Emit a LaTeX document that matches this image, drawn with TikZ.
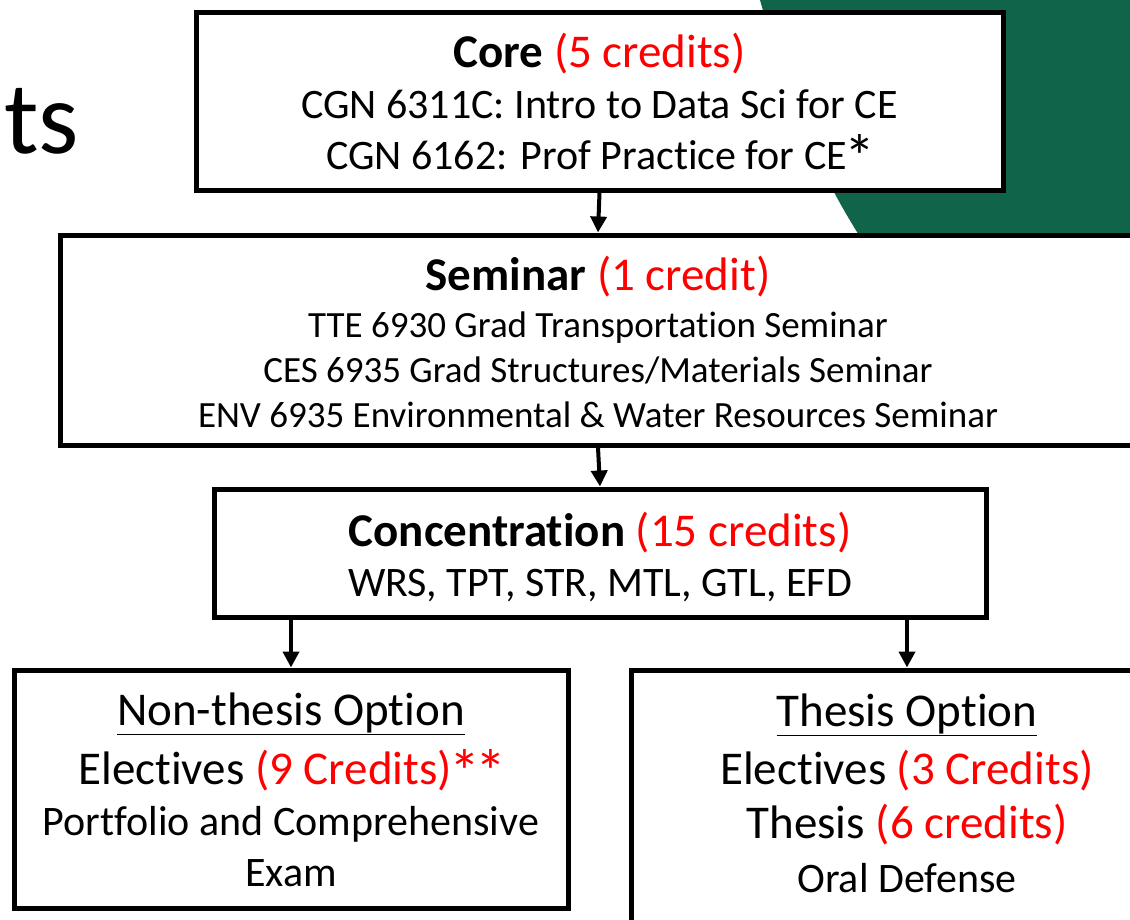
\documentclass[tikz,border=0pt]{standalone}
\usepackage{fontspec}
\setmainfont{Carlito}[Ligatures=NoCommon]
\usetikzlibrary{arrows.meta}
\definecolor{slidegreen}{HTML}{10644A}
\definecolor{credit}{HTML}{FF0000}
\newcommand{\cred}[1]{\textcolor{credit}{#1}}
\newcommand{\starmark}{\kern-2pt\smash{\raisebox{-9pt}{\fontsize{62}{62}\selectfont *}}\kern-3pt}
\tikzset{
    box/.style={draw, line width=5pt, fill=white, inner sep=0pt},
    boxtext/.style={align=center, inner sep=0pt},
    arr/.style={line width=4pt, -{Triangle[length=16pt, width=16pt]}},
}
\begin{document}
\begin{tikzpicture}[x=1pt, y=-1pt]
        \useasboundingbox (0,0) rectangle (1130,919);
        \clip (0,0) rectangle (1130,919);
        \fill[slidegreen] (760,0) .. controls (788,100) and (818,175) .. (875,260) -- (1130,260) -- (1130,0) -- cycle;
        \node[anchor=base west, inner sep=0pt, font=\fontsize{103}{120}\selectfont] (heading) at (4,153) {ts};
        \node[box, minimum width=807pt, minimum height=178pt] (core) at (599.5,101) {};
        \node[boxtext, font=\fontsize{42}{51}\selectfont] (coretext) at (599.5,101)
            {{\fontsize{47}{51}\selectfont\textbf{Core} \cred{(5 credits)}}\\CGN 6311C: Intro to Data Sci for CE\\CGN 6162: Prof Practice for CE\starmark};
        \node[box, minimum width=1076pt, minimum height=210pt] (seminar) at (598,340) {};
        \node[boxtext, font=\fontsize{37}{45}\selectfont] (seminartext) at (598,342)
            {{\fontsize{47}{51}\selectfont\textbf{Seminar} \cred{(1 credit)}}\\[2pt]TTE 6930 Grad Transportation Seminar\\CES 6935 Grad Structures/Materials Seminar\\ENV 6935 Environmental \& Water Resources Seminar};
        \node[box, minimum width=772pt, minimum height=128pt] (conc) at (600,553) {};
        \node[boxtext, font=\fontsize{42}{50}\selectfont] (conctext) at (600,557)
            {{\fontsize{47}{50}\selectfont\textbf{Concentration} \cred{(15 credits)}}\\WRS, TPT, STR, MTL, GTL, EFD};
        \node[box, minimum width=554pt, minimum height=238pt] (nonthesis) at (291,789) {};
        \node[boxtext, font=\fontsize{42}{51}\selectfont] (nonthesistext) at (291,789.5)
            {{\fontsize{47}{51}\selectfont\underline{Non-thesis Option}}\\[8pt]{\fontsize{47}{51}\selectfont Electives \cred{(9 Credits)\starmark\starmark}}\\Portfolio and Comprehensive\\Exam};
        \node[box, minimum width=552pt, minimum height=260pt] (thesis) at (907,800) {};
        \node[boxtext, font=\fontsize{42}{54}\selectfont] (thesistext) at (907,793)
            {{\fontsize{47}{54}\selectfont\underline{Thesis Option}}\\[4pt]{\fontsize{47}{54}\selectfont Electives \cred{(3 Credits)}}\\{\fontsize{47}{54}\selectfont Thesis \cred{(6 credits)}}\\Oral Defense};
        \draw[arr] (core.south) -- (seminar.north);
        \draw[arr] (seminar.south) -- (conc.north);
        \draw[arr] (conc.south -| nonthesis.north) -- (nonthesis.north);
        \draw[arr] (conc.south -| thesis.north) -- (thesis.north);
    \end{tikzpicture}
\end{document}
